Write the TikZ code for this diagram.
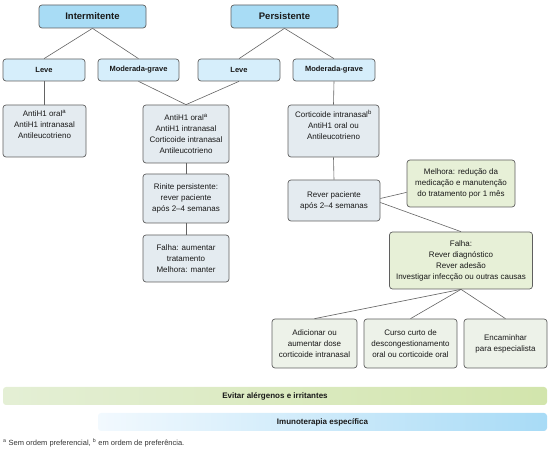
\documentclass[tikz,border=0pt]{standalone}
\usepackage{fontspec}
\setmainfont{Liberation Sans}
\definecolor{topblue}{RGB}{168,220,245}
\definecolor{levblue}{RGB}{214,238,251}
\definecolor{treatgray}{RGB}{228,235,240}
\definecolor{greenbox}{RGB}{231,240,215}
\definecolor{paleg}{RGB}{237,242,233}
\definecolor{bord}{RGB}{95,95,95}
\definecolor{linec}{RGB}{100,100,100}
\definecolor{gL}{RGB}{228,239,213}
\definecolor{gR}{RGB}{210,229,172}
\definecolor{bL}{RGB}{242,249,254}
\definecolor{bR}{RGB}{168,219,246}
\begin{document}
\begin{tikzpicture}[x=1pt,y=-1pt,
  base/.style={draw=bord,line width=0.7pt,rounded corners=3pt,inner sep=1pt,align=center,text=black!90},
  title/.style={base,fill=topblue,font=\fontsize{9.5}{11}\selectfont\bfseries},
  level/.style={base,fill=levblue,font=\fontsize{7.5}{9}\selectfont\bfseries},
  treat/.style={base,fill=treatgray,font=\fontsize{8}{11}\selectfont},
  gbox/.style={base,fill=greenbox,font=\fontsize{8}{11}\selectfont},
  pbox/.style={base,fill=paleg,font=\fontsize{8}{11}\selectfont},
  conn/.style={draw=linec,line width=0.6pt}]
\useasboundingbox (0,0) rectangle (550,454);
% top
\node[title,minimum width=107pt,minimum height=23pt] (int) at (92.5,16.5) {Intermitente};
\node[title,minimum width=107pt,minimum height=23pt] (per) at (284.5,16.5) {Persistente};
\node[level,minimum width=82pt,minimum height=22pt] (lev1) at (44,70) {Leve};
\node[level,minimum width=81pt,minimum height=22pt] (mod1) at (138.5,70) {Moderada-grave};
\node[level,minimum width=82pt,minimum height=22pt] (lev2) at (239,70) {Leve};
\node[level,minimum width=82pt,minimum height=22pt] (mod2) at (334,70) {Moderada-grave};
% treatments
\node[treat,minimum width=83pt,minimum height=52pt] (A) at (44.5,131) {AntiH1 oral\textsuperscript{a}\\AntiH1 intranasal\\Antileucotrieno\\[2pt]};
\node[treat,minimum width=86pt,minimum height=58pt] (B) at (186,134) {AntiH1 oral\textsuperscript{a}\\AntiH1 intranasal\\Corticoide intranasal\\Antileucotrieno};
\node[treat,minimum width=86pt,minimum height=49pt] (C) at (186,198.5) {Rinite persistente:\\rever paciente\\após 2–4 semanas};
\node[treat,minimum width=86pt,minimum height=47pt] (D) at (186,258.5) {Falha: aumentar\\tratamento\\Melhora: manter};
\node[treat,minimum width=91pt,minimum height=52pt] (E) at (333.5,131) {Corticoide intranasal\textsuperscript{b}\\AntiH1 oral ou\\Antileucotrieno\\[2pt]};
\node[treat,minimum width=92pt,minimum height=41pt] (F) at (334,200.5) {Rever paciente\\após 2–4 semanas};
\node[gbox,minimum width=108pt,minimum height=47pt] (G) at (461,183.5) {Melhora: redução da\\medicação e manutenção\\do tratamento por 1 mês};
\node[gbox,minimum width=143pt,minimum height=57pt] (H) at (461,260.5) {Falha:\\Rever diagnóstico\\Rever adesão\\Investigar infecção ou outras causas};
\node[pbox,minimum width=85pt,minimum height=49pt] (I) at (314.5,343.5) {Adicionar ou\\aumentar dose\\corticoide intranasal};
\node[pbox,minimum width=93pt,minimum height=49pt] (J) at (410.5,343.5) {Curso curto de\\descongestionamento\\oral ou corticoide oral};
\node[pbox,minimum width=83pt,minimum height=49pt] (K) at (505.5,343.5) {Encaminhar\\para especialista};
% connectors
\draw[conn] (int.south) -- (lev1.north);
\draw[conn] (int.south) -- (mod1.north);
\draw[conn] (per.south) -- (lev2.north);
\draw[conn] (per.south) -- (mod2.north);
\draw[conn] (lev1.south) -- (lev1.south |- A.north);
\draw[conn] (mod1.south) -- (B.north);
\draw[conn] (lev2.south) -- (B.north);
\draw[conn] (B.south) -- (C.north);
\draw[conn] (C.south) -- (D.north);
\draw[conn] (mod2.south) -- (E.north);
\draw[conn] (E.south) -- (F.north);
\draw[conn] ([yshift=2pt]F.east) -- ([yshift=15pt]G.south west);
\draw[conn] ([yshift=-2pt]F.east) -- (H.north);
\draw[conn] (H.south) -- (I.north);
\draw[conn] (H.south) -- (J.north);
\draw[conn] (H.south) -- (K.north);
% bands
\node[rounded corners=3pt,left color=gL,right color=gR,minimum width=544pt,minimum height=18pt,inner sep=0pt,font=\fontsize{8}{9}\selectfont\bfseries,text=black!90] (avoid) at (275,396) {Evitar alérgenos e irritantes};
\node[rounded corners=3pt,left color=bL,right color=bR,minimum width=449pt,minimum height=18pt,inner sep=0pt,font=\fontsize{8}{9}\selectfont\bfseries,text=black!90] (imuno) at (322.5,422) {Imunoterapia específica};
\node[anchor=base west,inner sep=0pt,font=\fontsize{7.5}{9}\selectfont,text=black!80] (foot) at (3,446) {\textsuperscript{a} Sem ordem preferencial, \textsuperscript{b} em ordem de preferência.};
\end{tikzpicture}
\end{document}
